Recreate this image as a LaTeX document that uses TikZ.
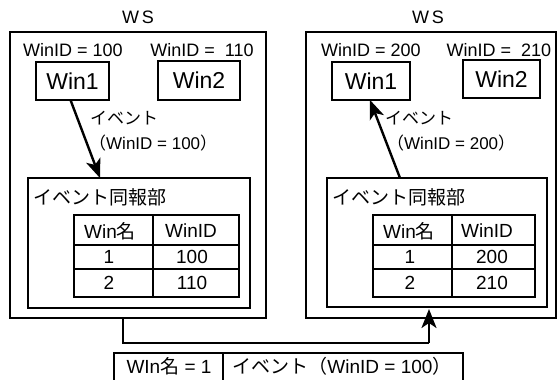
\documentclass[tikz,border=0pt]{standalone}
\usepackage{fontspec}
\setmainfont{Liberation Sans}
\newfontfamily\jp{Noto Sans CJK JP}
\usetikzlibrary{arrows.meta,calc}
\begin{document}
\begin{tikzpicture}[x=1pt,y=-1pt,
  box/.style={draw, line width=1.8pt, inner sep=0pt, outer sep=0pt},
  lbl/.style={inner sep=0pt, font=\fontsize{18}{20}\selectfont},
  winlbl/.style={inner sep=0pt, font=\fontsize{23}{25}\selectfont},
  cell/.style={inner sep=0pt, font=\fontsize{19}{21}\selectfont},
  evt/.style={inner sep=0pt, anchor=west, font=\fontsize{17}{19}\selectfont},
  arr/.style={line width=2.4pt, -{Stealth[length=19pt,width=15pt,inset=5pt]}},
  conn/.style={line width=1.8pt},
  tline/.style={line width=1.8pt}]
\useasboundingbox (0,0) rectangle (558,380);

% ---------- left WS ----------
\node[lbl] (wsLt) at (138,17) {W\hspace{3pt}S};
\node[box, minimum width=256pt, minimum height=286pt] (wsL) at (138,175) {};
\node[lbl] (idL1) at (73,50) {WinID = 100};
\node[lbl] (idL2) at (202,50) {WinID = \ 110};
\node[box, minimum width=73pt, minimum height=38pt] (win1L) at (72.5,81) {};
\node[winlbl] at (win1L) {Win1};
\node[box, minimum width=82pt, minimum height=39pt] (win2L) at (199,80.5) {};
\node[winlbl] at (win2L) {Win2};
\node[evt] (evL1) at (90,118) {\jp イベント};
\node[evt] (evL2) at (89,143) {\jp （\rmfamily WinID = 100\jp ）};
\node[box, minimum width=222pt, minimum height=130pt] (innerL) at (139,243) {};
\node[inner sep=0pt, anchor=west, font=\fontsize{19}{21}\selectfont] (bcL) at (33,197) {\jp イベント同報部};
\coordinate (tipL) at ($(innerL.north west)+(72,0)$);
\draw[arr] ([xshift=-2pt]win1L.south) -- (tipL);
% table left
\node[box, minimum width=165pt, minimum height=82pt] (tabL) at (156.5,256) {};
\draw[tline] (153,215) -- (153,297);
\draw[tline] (74,245) -- (239,245);
\draw[tline] (74,269) -- (239,269);
\node[cell] (hL1) at (110,231) {Win\jp 名};
\node[cell] (hL2) at (191,231) {WinID};
\node[cell] (r1L1) at (109,257) {1};
\node[cell] (r1L2) at (192,257) {100};
\node[cell] (r2L1) at (109,283) {2};
\node[cell] (r2L2) at (192,283) {110};

% ---------- right WS ----------
\node[lbl] (wsRt) at (428,17) {W\hspace{3pt}S};
\node[box, minimum width=250pt, minimum height=286pt] (wsR) at (431,175) {};
\node[lbl] (idR1) at (371,50) {WinID = 200};
\node[lbl] (idR2) at (499,50) {WinID = \ 210};
\node[box, minimum width=78pt, minimum height=38pt] (win1R) at (371,81) {};
\node[winlbl] at (win1R) {Win1};
\node[box, minimum width=77pt, minimum height=38pt] (win2R) at (501.5,79) {};
\node[winlbl] at (win2R) {Win2};
\node[evt] (evR1) at (385,118) {\jp イベント};
\node[evt] (evR2) at (387,143) {\jp （\rmfamily WinID = 200\jp ）};
\node[box, minimum width=220pt, minimum height=129pt] (innerR) at (437,242.5) {};
\node[inner sep=0pt, anchor=west, font=\fontsize{19}{21}\selectfont] (bcR) at (332,197) {\jp イベント同報部};
\coordinate (srcR) at ($(innerR.north west)+(73,0)$);
\draw[arr] (srcR) -- ([xshift=-1pt]win1R.south);
% table right
\node[box, minimum width=162pt, minimum height=82pt] (tabR) at (454,256) {};
\draw[tline] (452,215) -- (452,297);
\draw[tline] (373,245) -- (535,245);
\draw[tline] (373,269) -- (535,269);
\node[cell] (hR1) at (409,231) {Win\jp 名};
\node[cell] (hR2) at (487,231) {WinID};
\node[cell] (r1R1) at (410,257) {1};
\node[cell] (r1R2) at (492,257) {200};
\node[cell] (r2R1) at (410,283) {2};
\node[cell] (r2R2) at (492,283) {210};

% ---------- connection ----------
\coordinate (p1) at (123,343);
\coordinate (p2) at (429,343);
\draw[conn] (wsL.south -| p1) -- (p1) -- (p2);
\draw[arr] (p2) -- ([yshift=9pt]wsR.south -| p2);

% ---------- message ----------
\node[box, minimum width=349pt, minimum height=32pt] (msg) at (288.5,369) {};
\draw[tline] (223,353) -- (223,385);
\node[cell] (m1) at (169,366) {WIn\jp 名\rmfamily{} = 1};
\node[cell] (m2) at (342,366) {\jp イベント（\rmfamily WinID = 100\jp ）};
\end{tikzpicture}
\end{document}
